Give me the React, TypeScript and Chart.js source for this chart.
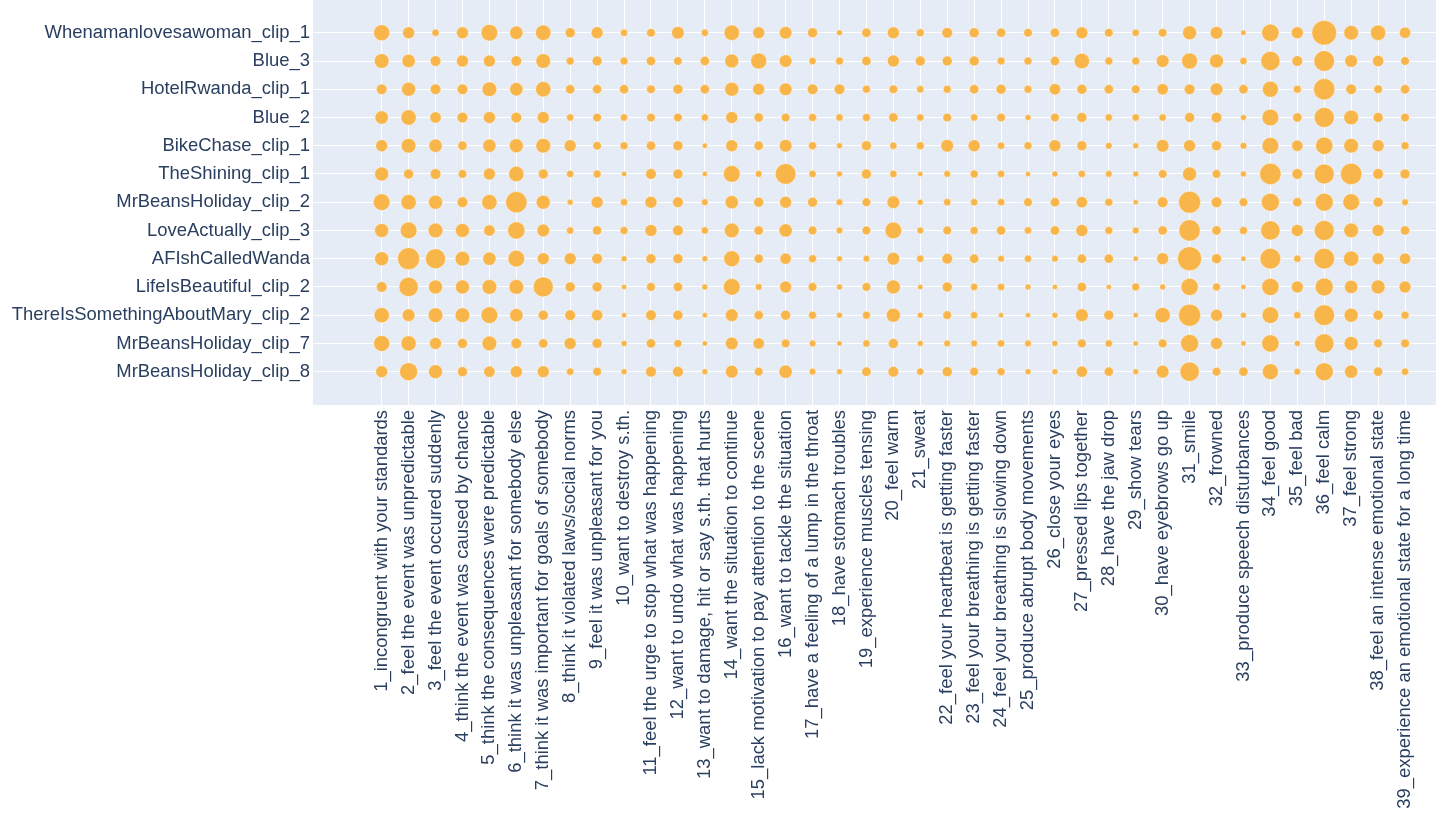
import React, { useEffect, useRef } from "react";
import { Chart, registerables } from "chart.js";

Chart.register(...registerables);

const xLabels: string[] = [
  "1_incongruent with your standards",
  "2_feel the event was unpredictable",
  "3_feel the event occured suddenly",
  "4_think the event was caused by chance",
  "5_think the consequences were predictable",
  "6_think it was unpleasant for somebody else",
  "7_think it was important for goals of somebody",
  "8_think it violated laws/social norms",
  "9_feel it was unpleasant for you",
  "10_want to destroy s.th.",
  "11_feel the urge to stop what was happening",
  "12_want to undo what was happening",
  "13_want to damage, hit or say s.th. that hurts",
  "14_want the situation to continue",
  "15_lack motivation to pay attention to the scene",
  "16_want to tackle the situation",
  "17_have a feeling of a lump in the throat",
  "18_have stomach troubles",
  "19_experience muscles tensing",
  "20_feel warm",
  "21_sweat",
  "22_feel your heartbeat is getting faster",
  "23_feel your breathing is getting faster",
  "24_feel your breathing is slowing down",
  "25_produce abrupt body movements",
  "26_close your eyes",
  "27_pressed lips together",
  "28_have the jaw drop",
  "29_show tears",
  "30_have eyebrows go up",
  "31_smile",
  "32_frowned",
  "33_produce speech disturbances",
  "34_feel good",
  "35_feel bad",
  "36_feel calm",
  "37_feel strong",
  "38_feel an intense emotional state",
  "39_experience an emotional state for a long time",
];

const yLabels: string[] = [
  "Whenamanlovesawoman_clip_1",
  "Blue_3",
  "HotelRwanda_clip_1",
  "Blue_2",
  "BikeChase_clip_1",
  "TheShining_clip_1",
  "MrBeansHoliday_clip_2",
  "LoveActually_clip_3",
  "AFIshCalledWanda",
  "LifeIsBeautiful_clip_2",
  "ThereIsSomethingAboutMary_clip_2",
  "MrBeansHoliday_clip_7",
  "MrBeansHoliday_clip_8",
];

// marker sizes (diameter) per clip, one value per item 1..39
const whenamanlovesawoman1 = [16,12,7.3,12,16.7,13.3,15.3, 10,12,7.3,8.7,12.7,7.3,15.3, 12,12.7,10,6,9.3,12,8, 10.7,10,9.3,8.7,9.3,12,8.7, 7.3,8.7,14,12.7,5.3,17.3,12, 24.7,14.7,15.3,11.3];
const blue3 = [14.7,13.3,10.7,12,12,10.7,14.7, 8,10,8,9.3,8.7,9.3,14, 16,12.7,7.3,8,9.3,12,10, 10,10,8,8,9.3,15.3,8, 8,12.7,16,14,7.3,19.3,10.7, 20.7,12.7,11.3,8.7];
const hotelRwanda1 = [10.7,14,10.7,10.7,14.7,13.3,15.3, 9.3,9.3,9.3,8.7,10,9.3,14, 12,12.7,10.7,10.7,8,8.7,7.3, 8,9.3,10,8,11.3,10,9.3, 8.7,11.3,10.7,12.7,9.3,16,8, 21.3,10.7,8.7,9.3];
const blue2 = [13.3,15.3,11.3,10.7,12,10.7,12, 7.3,8.7,7.3,8.7,8.7,7.3,12, 9.3,8.7,8,7.3,8,9.3,7.3, 8.7,7.3,8.7,6,8.7,10,7.3, 7.3,7.3,10,10.7,6,16.7,9.3, 20,14.7,10,8.7];
const bikeChase1 = [12,14.7,13.3,9.3,13.3,14,14.7, 12,8.7,8,9.3,10,5.3,12, 9.3,12.7,8,6,10,7.3,8, 12.7,12,7.3,8,12,10,6.7, 6,12.7,12,10,6.7,16.7,11.3, 17.3,14.7,12,8];
const theShining1 = [14,10,10.7,8.7,12,15.3,10, 7.3,8,5.3,10.7,10,5.3,16.7, 6.7,20.7,7.3,6,10,7.3,5.3, 6.7,8,7.3,5.3,6,7.3,6.7, 6,8.7,14,8.7,6,21.3,10.7, 20,21.3,10.7,10];
const mrBeans2 = [16.7,15.3,14,10.7,15.3,21.3,14, 6,12,7.3,12,10.7,6.7,13.3, 10,12,10,6.7,8.7,12.7,6, 7.3,7.3,7.3,8.7,9.3,11.3,8, 5.3,10.7,22,10.7,8.7,18,9.3, 18,16.7,10,6.7];
const loveActually3 = [14,16.7,14.7,14,11.3,17.3,12.7, 7.3,9.3,8,12,10.7,7.3,14.7, 9.3,13.3,8.7,6.7,8.7,16.7,6.7, 8.7,8,9.3,7.3,9.3,12,8, 6.7,9.3,21.3,9.3,8,19.3,12, 20,14.7,12,9.3];
const aFishCalledWanda = [14,22,20,14.7,13.3,16.7,12, 12,10.7,6,10,10,6,16, 9.3,11.3,8,6,6.7,12.7,7.3, 10.7,9.3,6.7,7.3,6.7,9.3,9.3, 5.3,12,24,10,5.3,20.7,7.3, 20.7,15.3,12,11.3];
const lifeIsBeautiful2 = [10.7,19.3,14,14,14.7,14.7,20, 10,10,5.3,8.7,9.3,6,16.7, 6.7,12,8.7,6,8.7,14,5.3, 10,7.3,7.3,6,5.3,9.3,5.3, 8,6,17.3,8,5.3,17.3,12, 18,13.3,14,12];
const aboutMary2 = [15.3,12.7,14.7,14.7,16.7,13.3,10, 10.7,11.3,5.3,10.7,10,5.3,12.7, 9.3,10,8,6,8,14,6, 8.7,7.3,5.3,5.3,6,12.7,10, 5.3,15.3,22,12,6,16.7,7.3, 20.7,14,10,8];
const mrBeans7 = [16,15.3,12,10,14.7,10.7,9.3, 12,10,6,9.3,8,5.3,12.7, 11.3,8.7,6.7,5.3,7.3,10,6, 6.7,6.7,7.3,6.7,6,8.7,7.3, 5.3,8.7,18,12,5.3,17.3,6, 19.3,14,8.7,8.7];
const mrBeans8 = [12,18,14,10,11.3,12,12, 7.3,8.7,6,10.7,10.7,6,12.7, 8.7,13.3,6.7,6,9.3,10.7,7.3, 10,8.7,8,6,6,11.3,9.3, 6,12.7,19.3,8.7,9.3,16,6.7, 18,13.3,9.3,7.3];

const sizeRows = [
  whenamanlovesawoman1, blue3, hotelRwanda1, blue2, bikeChase1, theShining1,
  mrBeans2, loveActually3, aFishCalledWanda, lifeIsBeautiful2, aboutMary2, mrBeans7, mrBeans8,
];

const FONT = '"Liberation Sans", Arial, sans-serif';
const TEXT = "#2a3f5f";

export default function App() {
  const ref = useRef<HTMLCanvasElement | null>(null);

  useEffect(() => {
    if (!ref.current) return;
    const points: { x: number; y: number; r: number }[] = [];
    sizeRows.forEach((row, j) => {
      row.forEach((d, i) => points.push({ x: i, y: j, r: d / 2 }));
    });

    const bgPlugin = {
      id: "plotBg",
      beforeDraw(chart: any) {
        const { ctx, chartArea } = chart;
        ctx.save();
        ctx.fillStyle = "#E5ECF6";
        ctx.fillRect(chartArea.left, chartArea.top, chartArea.right - chartArea.left, chartArea.bottom - chartArea.top);
        ctx.restore();
      },
    };

    const chart = new Chart(ref.current, {
      type: "bubble",
      data: {
        datasets: [
          {
            data: points,
            backgroundColor: "#F8B54A",
            borderColor: "rgba(255,255,255,0.55)",
            borderWidth: 0.8,
            clip: false as any,
          },
        ],
      },
      options: {
        responsive: false,
        animation: false,
        layout: { autoPadding: false, padding: { top: 0, right: 7, left: 0, bottom: 0 } },
        plugins: { legend: { display: false }, tooltip: { enabled: false } },
        scales: {
          x: {
            type: "linear",
            min: -2.55,
            max: 39.15,
            afterBuildTicks(scale: any) {
              scale.ticks = xLabels.map((_, i) => ({ value: i }));
            },
            afterFit(scale: any) {
              scale.height = 413;
              scale.paddingLeft = 0;
              scale.paddingRight = 0;
            },
            ticks: {
              autoSkip: false,
              maxRotation: 90,
              minRotation: 90,
              padding: 5,
              color: TEXT,
              font: { family: FONT, size: 18.45 },
              callback: (v: any) => xLabels[Number(v)] ?? "",
            },
            grid: { color: "#ffffff", lineWidth: 1, drawTicks: false },
            border: { display: false },
          },
          y: {
            type: "linear",
            reverse: true,
            min: -1.16,
            max: 13.18,
            afterBuildTicks(scale: any) {
              scale.ticks = yLabels.map((_, i) => ({ value: i }));
            },
            afterFit(scale: any) {
              scale.width = 313;
              scale.paddingTop = 0;
              scale.paddingBottom = 0;
            },
            ticks: {
              autoSkip: false,
              padding: 3,
              color: TEXT,
              font: { family: FONT, size: 18.45 },
              callback: (v: any) => yLabels[Number(v)] ?? "",
            },
            grid: { color: "#ffffff", lineWidth: 1, drawTicks: false },
            border: { display: false },
          },
        },
      },
      plugins: [bgPlugin],
    });
    return () => chart.destroy();
  }, []);

  return (
    <div style={{ position: "fixed", left: 0, top: 0, width: 1443, height: 818, background: "#fff" }}>
      <canvas ref={ref} width={1443} height={818} style={{ width: 1443, height: 818, display: "block" }} />
    </div>
  );
}
